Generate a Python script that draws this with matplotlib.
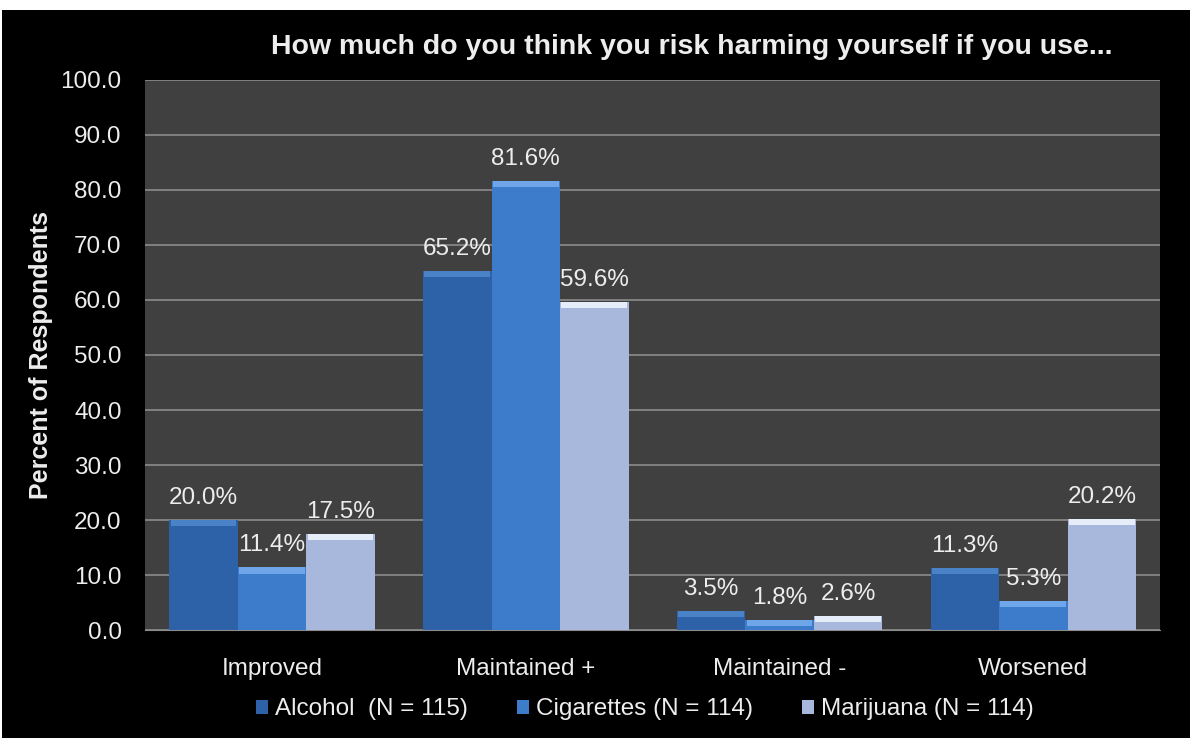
import matplotlib

matplotlib.use("Agg")
import matplotlib.pyplot as plt  # noqa: E402
import numpy as np  # noqa: E402
from matplotlib.patches import Rectangle  # noqa: E402

categories = ["Improved", "Maintained +", "Maintained -", "Worsened"]
series_names = ["Alcohol  (N = 115)", "Cigarettes (N = 114)", "Marijuana (N = 114)"]
alcohol = [20.0, 65.2, 3.5, 11.3]
cigarettes = [11.4, 81.6, 1.8, 5.3]
marijuana = [17.5, 59.6, 2.6, 20.2]
yticks = [0, 10, 20, 30, 40, 50, 60, 70, 80, 90, 100]

colors = ["#2D62A8", "#3D7BCB", "#A8B8DC"]
tops = ["#4A82C8", "#6FA6EA", "#E6ECF8"]
text_color = "#EDEDED"

plt.rcParams["font.family"] = ["Liberation Sans", "DejaVu Sans"]

fig = plt.figure(figsize=(11.9, 7.38), dpi=100, facecolor="white")
fig.add_artist(Rectangle((2 / 1190, 0), 1, 728 / 738, transform=fig.transFigure,
                         facecolor="black", edgecolor="none", zorder=-5))
ax = fig.add_axes([0.122, 0.146, 0.853, 0.746])
ax.set_facecolor("#404040")

x = np.arange(len(categories))
width = 0.27
for i, vals in enumerate([alcohol, cigarettes, marijuana]):
    pos = x + (i - 1) * width
    bars = ax.bar(pos, vals, width, color=colors[i], edgecolor="none", zorder=3,
                  label=series_names[i])
    # light bevel strip along the top of each bar
    ax.bar(pos, [min(v, 1.1) for v in vals], width * 0.96,
           bottom=[v - min(v, 1.1) for v in vals], color=tops[i],
           edgecolor="none", zorder=4)
    for b, v in zip(bars, vals):
        ax.annotate(f"{v:.1f}%", (b.get_x() + b.get_width() / 2, v),
                    xytext=(0, 8), textcoords="offset points",
                    ha="center", va="bottom", color=text_color, fontsize=17.5, zorder=5)

ax.set_xlim(-0.5, len(categories) - 0.5)
ax.set_ylim(0, 100)
ax.set_yticks(yticks)
ax.set_yticklabels([f"{t:.1f}" for t in yticks])
ax.set_xticks(x)
ax.set_xticklabels(categories)
ax.yaxis.grid(True, color="#8C8C8C", linewidth=1.2, zorder=1)
ax.set_axisbelow(True)
ax.tick_params(colors=text_color, labelsize=17.5, length=0)
ax.tick_params(axis="y", pad=17)
ax.tick_params(axis="x", pad=20)
for s in ax.spines.values():
    s.set_visible(False)
ax.spines["bottom"].set_visible(True)
ax.spines["bottom"].set_color("#8C8C8C")

ax.set_ylabel("Percent of Respondents", color=text_color, fontsize=18,
              fontweight="bold", labelpad=5)
fig.text(0.581, 0.936, "How much do you think you risk harming yourself if you use...",
         ha="center", va="center", color=text_color, fontsize=20.5, fontweight="bold")

handles, labels = ax.get_legend_handles_labels()
leg = fig.legend(handles, labels, loc="center", bbox_to_anchor=(0.542, 0.039), ncol=3,
                 frameon=False, fontsize=17.5, handlelength=0.5, handleheight=0.5,
                 handletextpad=0.3, columnspacing=2.0)
for t in leg.get_texts():
    t.set_color(text_color)

fig.savefig("out.png", dpi=100, facecolor=fig.get_facecolor())
